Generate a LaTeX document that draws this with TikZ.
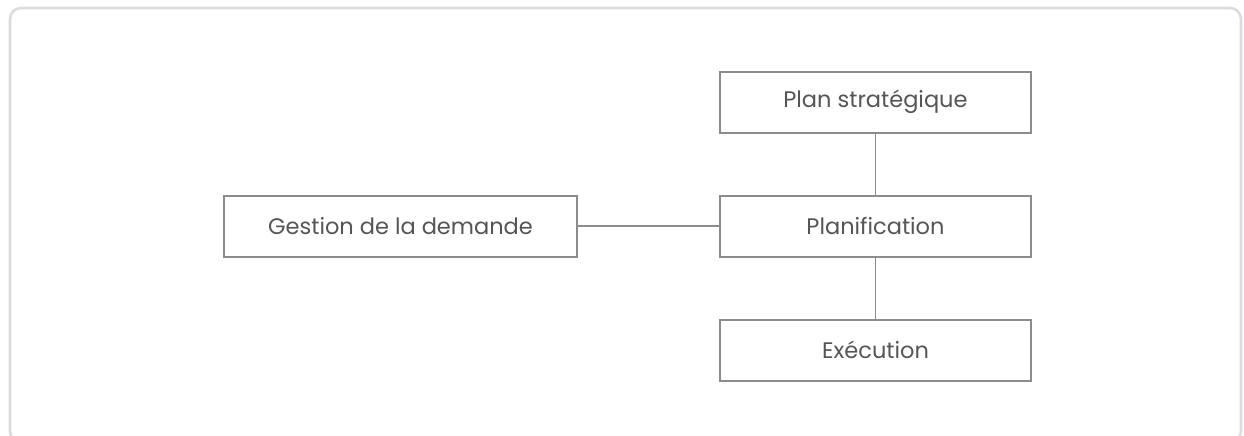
\documentclass[tikz,border=0pt]{standalone}
\usepackage{fontspec}
\setmainfont{Poppins}
\definecolor{framegray}{HTML}{DCDCDC}
\definecolor{boxgray}{HTML}{8C8C8C}
\definecolor{textgray}{HTML}{555555}
\begin{document}
\begin{tikzpicture}[x=1pt,y=-1pt,
  stagebox/.style={draw=boxgray, line width=2pt, fill=white, rectangle,
    minimum height=61pt, inner sep=0pt, text=textgray,
    font=\fontsize{22.5}{26}\selectfont},
  link/.style={draw=boxgray, line width=1.6pt}]
  \useasboundingbox (0,0) rectangle (1244,436);
  % outer panel
  \draw[framegray, line width=2.6pt, rounded corners=11pt] (10,8) rectangle (1241,442);
  % stages
  \node[stagebox, minimum width=311pt] (plan) at (875.5,102) {Plan stratégique};
  \node[stagebox, minimum width=311pt] (planif) at (875.5,226) {Planification};
  \node[stagebox, minimum width=311pt] (exec) at (875.5,350) {Exécution};
  \node[stagebox, minimum width=353pt] (gest) at (400.5,226) {Gestion de la demande};
  % links
  \draw[link] (plan.south) -- (planif.north);
  \draw[link] (planif.south) -- (exec.north);
  \draw[link] (gest.east) -- (planif.west);
\end{tikzpicture}
\end{document}
